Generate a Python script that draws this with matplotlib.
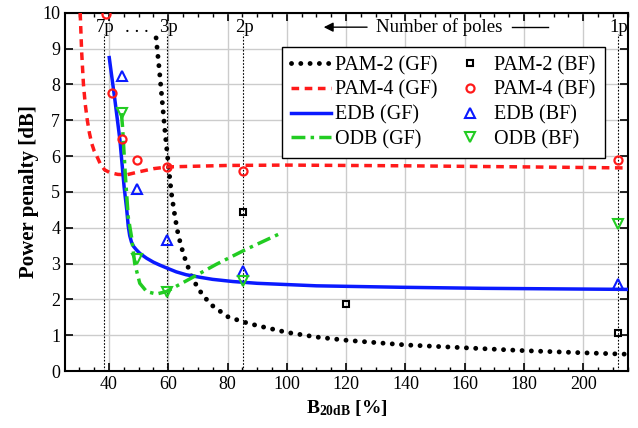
import matplotlib
matplotlib.use("Agg")
import matplotlib.pyplot as plt
from matplotlib.ticker import MultipleLocator

plt.rcParams['font.family'] = ['Liberation Serif', 'DejaVu Serif']
plt.rcParams['mathtext.fontset'] = 'custom'
plt.rcParams['mathtext.rm'] = 'Liberation Serif'
plt.rcParams['mathtext.bf'] = 'Liberation Serif:bold'

# Gaussian-filter (GF) curves
pam2_gf_x = [55.9, 57, 58, 59, 60, 61, 62, 63, 64, 65, 66, 68, 70, 72, 75, 80, 85, 90,
             100, 110, 120, 140, 160, 180, 200, 215]
pam2_gf_y = [9.3, 8.4, 7.5, 6.6, 5.8, 5.0, 4.45, 3.95, 3.6, 3.3, 3.05, 2.62, 2.32, 2.08,
             1.82, 1.52, 1.38, 1.27, 1.08, 0.95, 0.86, 0.73, 0.65, 0.57, 0.51, 0.47]

pam4_gf_x = [30.3, 30.8, 31.4, 32.0, 32.7, 33.4, 34.2, 35.0, 35.9, 37.0, 38.5, 40.3, 43,
             46, 50, 55, 60, 80, 100, 140, 180, 215]
pam4_gf_y = [10.0, 8.9, 8.0, 7.45, 7.0, 6.65, 6.35, 6.15, 6.0, 5.8, 5.62, 5.54, 5.49,
             5.48, 5.56, 5.65, 5.7, 5.74, 5.75, 5.73, 5.7, 5.67]

edb_gf_x = [40.1, 42.0, 43.7, 45.1, 46.0, 46.5, 47.0, 47.6, 48.3, 49.3, 50.5, 52.7, 55,
            57.1, 60, 62.7, 66, 70.6, 75, 81.8, 90, 98.6, 110, 138, 166, 215]
edb_gf_y = [8.75, 7.57, 6.45, 5.15, 4.5, 4.05, 3.78, 3.6, 3.48, 3.38, 3.28, 3.15, 3.04,
            2.96, 2.86, 2.77, 2.69, 2.62, 2.56, 2.5, 2.45, 2.42, 2.38, 2.34, 2.31, 2.28]

odb_gf_x = [44.2, 44.6, 45.5, 46.5, 47.6, 48.7, 50.4, 52.7, 56, 59.4, 66.1, 76.2, 86.3, 98]
odb_gf_y = [7.2, 6.8, 5.5, 4.3, 3.75, 3.0, 2.45, 2.22, 2.15, 2.22, 2.52, 2.98, 3.4, 3.85]

# Brickwall-filter (BF) points
pam2_bf_x = [85.3, 120, 211.6]
pam2_bf_y = [4.45, 1.87, 1.06]
pam4_bf_x = [38.9, 41.1, 44.5, 49.4, 59.6, 85.3, 211.6]
pam4_bf_y = [9.97, 7.75, 6.48, 5.89, 5.69, 5.58, 5.9]
edb_bf_x = [44.5, 49.6, 59.5, 85.3, 211.6]
edb_bf_y = [8.24, 5.07, 3.66, 2.8, 2.44]
odb_bf_x = [44.5, 49.5, 59.5, 85.3, 211.6]
odb_bf_y = [7.2, 3.13, 2.2, 2.52, 4.1]

# Number-of-poles markers
pole_x = [38.3, 59.5, 85.3, 211.6]
pole_labels = ['7p', '3p', '2p', '1p']

fig = plt.figure(figsize=(6.38, 4.28), dpi=100)
ax = fig.add_axes([0.102, 0.133, 0.882, 0.837])

for x in pole_x:
    ax.plot([x, x], [0, 9.4], color='black', linestyle=(0, (1.5, 1.5)), linewidth=0.8, zorder=1)
for x, lab in zip(pole_x, pole_labels):
    ax.text(x + 0.4, 9.6, lab, ha='center', va='center', fontsize=13.5)
ax.text(49.5, 9.6, '. . .', ha='center', va='center', fontsize=13.5)

ax.annotate('', xy=(111.5, 9.6), xytext=(128, 9.6),
            arrowprops=dict(arrowstyle='-|>', color='black', lw=1.0, mutation_scale=14))
ax.text(151.5, 9.6, 'Number of poles', ha='center', va='center', fontsize=13.5)
ax.plot([176, 188], [9.6, 9.6], color='black', lw=1.0)

ax.plot(pam2_gf_x, pam2_gf_y, color='black', linestyle=(0, (0.01, 1.9)), linewidth=3.5,
        dash_capstyle='round', label='PAM-2 (GF)', zorder=3)
ax.plot(pam4_gf_x, pam4_gf_y, color='#ff1a1a', linestyle=(0, (2.2, 1.6)), linewidth=2.5,
        label='PAM-4 (GF)', zorder=3)
ax.plot(edb_gf_x, edb_gf_y, color='#0a1aff', linewidth=2.5, label='EDB (GF)', zorder=3)
ax.plot(odb_gf_x, odb_gf_y, color='#22cc22', linestyle=(0, (4, 1.5, 1, 1.5)), linewidth=2.5,
        label='ODB (GF)', zorder=3)

ax.plot(pam2_bf_x, pam2_bf_y, 's', color='black', mfc='none', mew=1.5, ms=4.5,
        label='PAM-2 (BF)', zorder=4)
ax.plot(pam4_bf_x, pam4_bf_y, 'o', color='#ff1a1a', mfc='none', mew=1.6, ms=5.8,
        label='PAM-4 (BF)', zorder=4)
ax.plot(edb_bf_x, edb_bf_y, '^', color='#0a1aff', mfc='none', mew=1.5, ms=7,
        label='EDB (BF)', zorder=4)
ax.plot(odb_bf_x, odb_bf_y, 'v', color='#22cc22', mfc='none', mew=1.5, ms=7,
        label='ODB (BF)', zorder=4)

ax.set_xlim(25.2, 215)
ax.set_ylim(0, 10)
ax.xaxis.set_major_locator(MultipleLocator(20))
ax.xaxis.set_minor_locator(MultipleLocator(5))
ax.yaxis.set_major_locator(MultipleLocator(1))
ax.set_xticks([40, 60, 80, 100, 120, 140, 160, 180, 200])
ax.tick_params(which='both', direction='in', top=True, right=True, labelsize=13)
ax.tick_params(which='major', length=6, width=1.2)
ax.tick_params(which='minor', length=3, width=1.0)
ax.grid(True, which='major', color='#cccccc', linewidth=1.0)
ax.set_axisbelow(True)
for s in ax.spines.values():
    s.set_linewidth(1.5)

ax.set_xlabel(r'$\mathbf{B_{20dB}}$ [%]', fontsize=14, fontweight='bold', labelpad=4)
ax.set_ylabel('Power penalty [dB]', fontsize=15, fontweight='bold', labelpad=2)

leg = ax.legend(ncol=2, loc='upper right', bbox_to_anchor=(0.959, 0.905), fontsize=14.5,
                frameon=True, fancybox=False, framealpha=1, edgecolor='black',
                handlelength=2.0, labelspacing=0.27, columnspacing=0.6, handletextpad=0.2,
                borderpad=0.45, borderaxespad=0)
leg.get_frame().set_linewidth(1.0)

fig.savefig('out.png', dpi=100)
